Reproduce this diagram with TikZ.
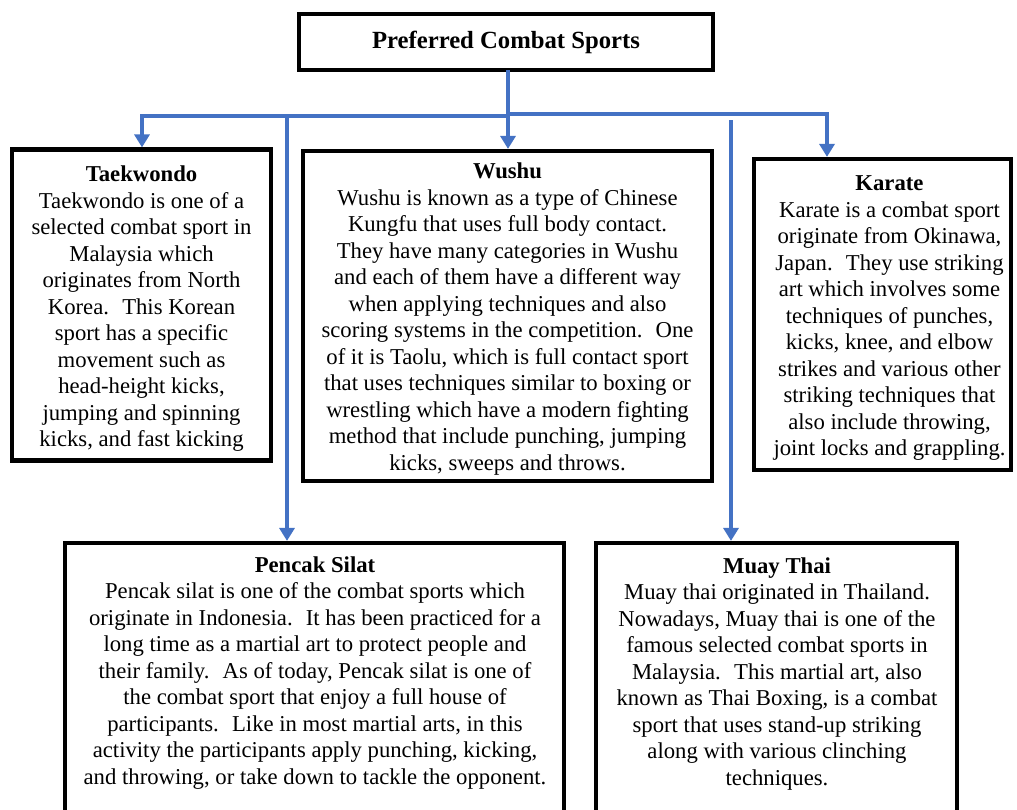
\documentclass[tikz,border=0pt]{standalone}
\usepackage{fontspec}
\setmainfont{Liberation Serif}
\usetikzlibrary{arrows.meta}
\definecolor{connblue}{HTML}{4472C4}
\tikzset{
  frame/.style={draw=black, line width=4.2pt, rectangle, inner sep=0pt, fill=white},
  body/.style={align=center, inner sep=0pt, font=\fontsize{22.7}{26.5}\selectfont},
  bus/.style={draw=connblue, line width=4.5pt, line cap=rect},
  arr/.style={draw=connblue, line width=4.5pt, -{Triangle[width=15pt,length=13pt]}},
}
\begin{document}
\begin{tikzpicture}[x=1pt,y=-1pt]
\useasboundingbox (0,0) rectangle (1017,809);
\clip (0,0) rectangle (1017,809);
\fill[white] (0,0) rectangle (1017,809);

% frames
\node[frame, minimum width=414pt, minimum height=56pt] (top) at (506,42) {};
\node[frame, minimum width=259pt, minimum height=311pt] (tkd) at (141.5,305) {};
\node[frame, minimum width=409pt, minimum height=330pt] (wushu) at (507.5,316) {};
\node[frame, minimum width=257pt, minimum height=311pt] (karate) at (882.5,314.5) {};
\node[frame, minimum width=499pt, minimum height=297pt] (pencak) at (314.5,691.5) {};
\node[frame, minimum width=361pt, minimum height=297pt] (muay) at (776.5,691.5) {};

% texts
\node[body, font=\fontsize{24.7}{28}\selectfont\bfseries] (toptext) at (506,42) {Preferred Combat Sports};
\node[body] (tkdtext) at (141.5,309) {\textbf{Taekwondo}\\
Taekwondo is one of a\\
selected combat sport in\\
Malaysia which\\
originates from North\\
Korea.~ This Korean\\
sport has a specific\\
movement such as\\
head-height kicks,\\
jumping and spinning\\
kicks, and fast kicking};
\node[body] (wushutext) at (507.5,319) {\textbf{Wushu}\\
Wushu is known as a type of Chinese\\
Kungfu that uses full body contact.\\
They have many categories in Wushu\\
and each of them have a different way\\
when applying techniques and also\\
scoring systems in the competition.~ One\\
of it is Taolu, which is full contact sport\\
that uses techniques similar to boxing or\\
wrestling which have a modern fighting\\
method that include punching, jumping\\
kicks, sweeps and throws.};
\node[body] (karatetext) at (889.5,318.5) {\textbf{Karate}\\
Karate is a combat sport\\
originate from Okinawa,\\
Japan.~ They use striking\\
art which involves some\\
techniques of punches,\\
kicks, knee, and elbow\\
strikes and various other\\
striking techniques that\\
also include throwing,\\
joint locks and grappling.};
\node[body] (pencaktext) at (315,673) {\textbf{Pencak Silat}\\
Pencak silat is one of the combat sports which\\
originate in Indonesia.~ It has been practiced for a\\
long time as a martial art to protect people and\\
their family.~ As of today, Pencak silat is one of\\
the combat sport that enjoy a full house of\\
participants.~ Like in most martial arts, in this\\
activity the participants apply punching, kicking,\\
and throwing, or take down to tackle the opponent.};
\node[body] (muaytext) at (777,674) {\textbf{Muay Thai}\\
Muay thai originated in Thailand.\\
Nowadays, Muay thai is one of the\\
famous selected combat sports in\\
Malaysia.~ This martial art, also\\
known as Thai Boxing, is a combat\\
sport that uses stand-up striking\\
along with various clinching\\
techniques.};

% connectors
\coordinate (bl) at (142,116);
\coordinate (bwl) at (508,116);
\coordinate (bw) at (508,114);
\coordinate (br) at (827,114);
\coordinate (bp) at (287,116);
\coordinate (bm) at (731,120);
\draw[bus] (bl) -- (bwl);
\draw[bus] (bw) -- (br);
\draw[bus] (top.south -| bw) -- (bw);
\draw[arr] (bw) -- (bw |- wushu.north);
\draw[arr] (bl) -- (bl |- tkd.north);
\draw[arr] (br) -- (br |- karate.north);
\draw[arr] (bp) -- (bp |- pencak.north);
\draw[arr] (bm) -- (bm |- muay.north);
\end{tikzpicture}
\end{document}
